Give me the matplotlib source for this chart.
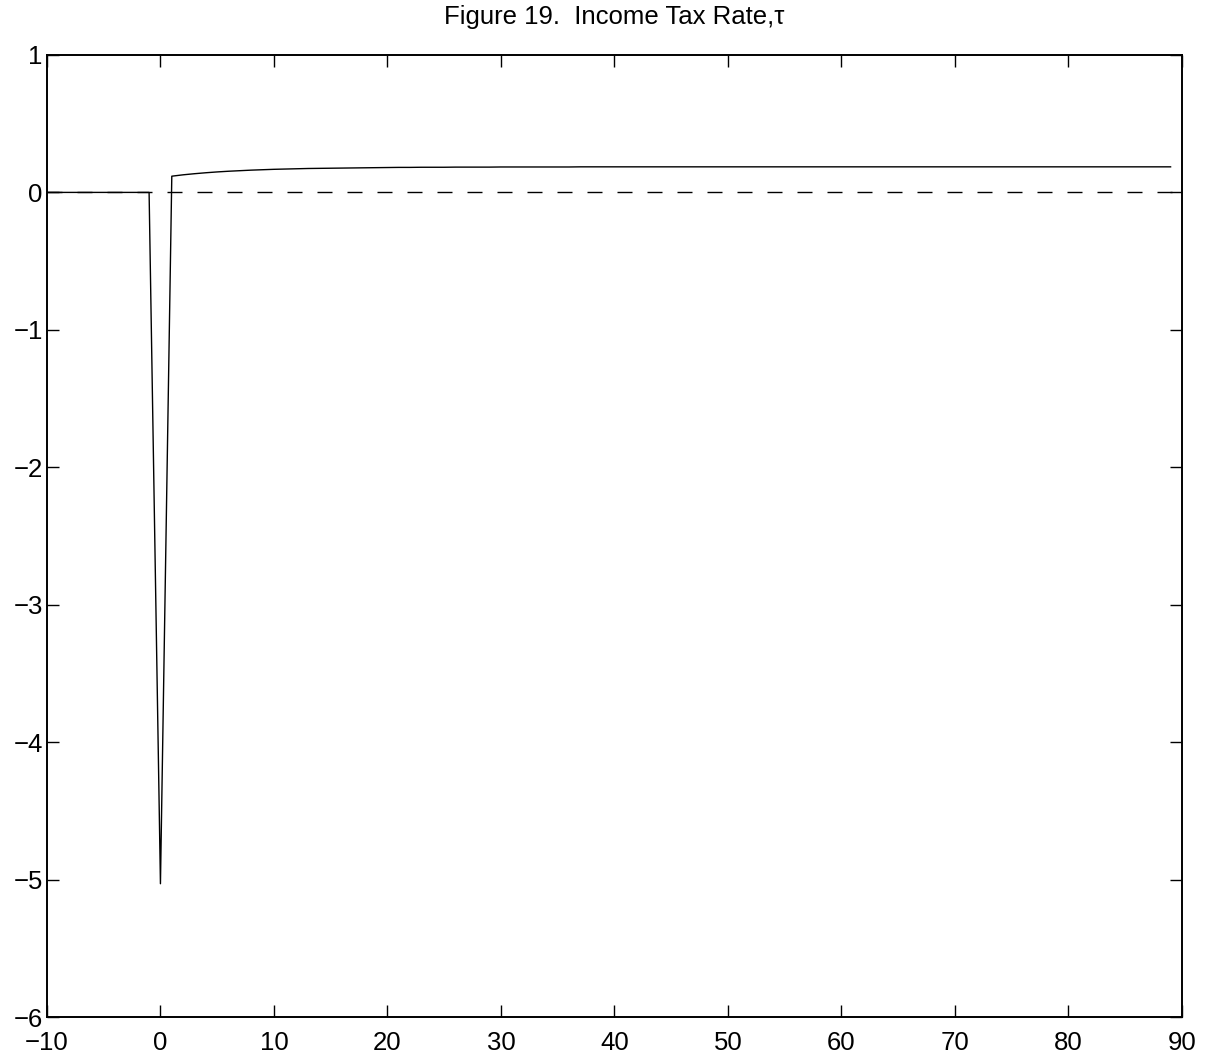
import numpy as np
import matplotlib
matplotlib.use("Agg")
import matplotlib.pyplot as plt

plt.rcParams["font.family"] = ["Liberation Sans", "DejaVu Sans"]

# periods -10 .. 89
periods = list(range(-10, 90))

# income tax rate deviation
tau_pre = [0.0] * 10                     # t = -10 .. -1
tau_impact = [-5.03]                     # t = 0
tau_post = [
    0.118, 0.128, 0.136, 0.143, 0.149, 0.154, 0.158, 0.162, 0.165, 0.168,   # 1-10
    0.170, 0.172, 0.174, 0.175, 0.176, 0.177, 0.178, 0.179, 0.180, 0.181,   # 11-20
    0.182, 0.182, 0.183, 0.183, 0.183, 0.184, 0.184, 0.184, 0.184, 0.185,   # 21-30
    0.185, 0.185, 0.185, 0.185, 0.185, 0.185, 0.186, 0.186, 0.186, 0.186,   # 31-40
    0.186, 0.186, 0.186, 0.186, 0.186, 0.186, 0.186, 0.186, 0.186, 0.186,   # 41-50
    0.186, 0.186, 0.186, 0.186, 0.186, 0.186, 0.186, 0.186, 0.186, 0.186,   # 51-60
    0.186, 0.186, 0.186, 0.186, 0.186, 0.186, 0.186, 0.186, 0.186, 0.186,   # 61-70
    0.186, 0.186, 0.186, 0.186, 0.186, 0.186, 0.186, 0.186, 0.186, 0.186,   # 71-80
    0.186, 0.186, 0.186, 0.186, 0.186, 0.186, 0.186, 0.186, 0.186,          # 81-89
]
tau = tau_pre + tau_impact + tau_post

baseline_x = [-10, 90]
baseline_y = [0, 0]

xticks = list(range(-10, 91, 10))
yticks = list(range(-6, 2))

fig = plt.figure(figsize=(12.1, 10.57), dpi=100)
ax = fig.add_axes([0.0388, 0.0378, 0.938, 0.9102])

ax.plot(periods, tau, color="black", lw=1.0)
ax.plot(baseline_x, baseline_y, color="black", lw=1.0, dashes=(10.8, 10.8))

ax.set_xlim(-10, 90)
ax.set_ylim(-6, 1)
ax.set_xticks(xticks)
ax.set_yticks(yticks)

ax.tick_params(direction="in", length=8.6, width=1.0, labelsize=18.5,
               top=True, right=True)
ax.tick_params(axis="x", pad=10)
ax.tick_params(axis="y", pad=3)
for s in ax.spines.values():
    s.set_linewidth(1.4)

ax.set_title("Figure 19.  Income Tax Rate,τ", fontsize=18.5, pad=22)

fig.savefig("out.png", dpi=100)
